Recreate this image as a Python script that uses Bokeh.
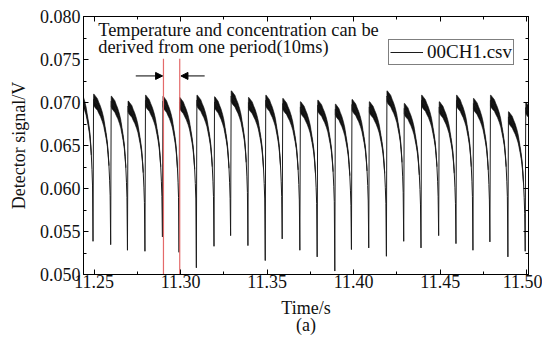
from bokeh.plotting import figure
from bokeh.models import (Range1d, LinearAxis, FixedTicker, NumeralTickFormatter,
                          CustomJSTickFormatter, Label, Arrow, NormalHead, Legend,
                          LegendItem)
from bokeh.embed import file_html
from bokeh.resources import INLINE

# ---------------- data ----------------
# times of the sharp minima (s); first and last lie just outside the view
min_times = [11.2394, 11.2494, 11.2596, 11.2693, 11.2794, 11.2895, 11.2991, 11.3091,
             11.3193, 11.3289, 11.3389, 11.3489, 11.3587, 11.3689, 11.3789, 11.3891,
             11.3987, 11.4087, 11.4189, 11.4289, 11.4389, 11.4491, 11.4591, 11.4689,
             11.4787, 11.4891, 11.4991, 11.5091]
# detector signal at each minimum (V)
min_vals = [0.0535, 0.05386, 0.05347, 0.05282, 0.0527, 0.05437, 0.05258, 0.05078,
            0.05328, 0.05452, 0.05336, 0.05162, 0.05414, 0.05282, 0.05205, 0.0504,
            0.0529, 0.05309, 0.05212, 0.05386, 0.05309, 0.05452, 0.05359, 0.05282,
            0.05379, 0.05205, 0.0527, 0.0535]
# top of the noisy plateau in each period (V), one per interval between minima
cycle_tops = [0.0722, 0.07097, 0.07073, 0.07016, 0.07085, 0.07073, 0.07058, 0.07085,
              0.07066, 0.07135, 0.07058, 0.07085, 0.07047, 0.07008, 0.07027, 0.06981,
              0.07035, 0.07008, 0.07135, 0.06989, 0.07085, 0.07008, 0.07085, 0.07047,
              0.07085, 0.06892, 0.0700]
# shape of one period: fraction of period,
# drop of the trace centre below the plateau top (V), half thickness of the noise (V)
prof_frac = [0.03, 0.06, 0.13, 0.25, 0.33, 0.42, 0.52, 0.60, 0.67, 0.74, 0.81, 0.86,
             0.90, 0.94, 0.97]
prof_drop = [0.0006, 0.0007, 0.0009, 0.0012, 0.0016, 0.0020, 0.0026, 0.0032, 0.0040,
             0.0048, 0.0058, 0.0070, 0.0082, 0.0100, 0.0118]
prof_hw = [0.0006, 0.0007, 0.0007, 0.00068, 0.00064, 0.0006, 0.00055, 0.00048, 0.0004,
           0.00034, 0.00027, 0.00018, 0.0001, 0.0, 0.0]

marker_times = [11.2901, 11.2995]       # red lines bounding one period
series_name = "00CH1.csv"
x_ticks = [11.25, 11.30, 11.35, 11.40, 11.45, 11.50]
x_minor = [11.275, 11.325, 11.375, 11.425, 11.475]
y_ticks = [0.050, 0.055, 0.060, 0.065, 0.070, 0.075, 0.080]
y_minor = [0.0525, 0.0575, 0.0625, 0.0675, 0.0725, 0.0775]
note_lines = ["Temperature and concentration can be", "derived from one period(10ms)"]
panel_tag = "(a)"

# ---------------- build trace ----------------
xs_line, ys_line = [], []
band_xs, band_ys = [], []
for i in range(len(min_times) - 1):
    t0, t1 = min_times[i], min_times[i + 1]
    per = t1 - t0
    top = cycle_tops[i]
    xs_line.append(t0)
    ys_line.append(min_vals[i])
    upx, upy, lox, loy = [], [], [], []
    for f, d, h in zip(prof_frac, prof_drop, prof_hw):
        t = t0 + f * per
        c = top - d
        xs_line.append(t)
        ys_line.append(c)
        if h > 0:
            upx.append(t); upy.append(c + h)
            lox.append(t); loy.append(c - h)
    band_xs.append(upx + lox[::-1])
    band_ys.append(upy + loy[::-1])
xs_line.append(min_times[-1])
ys_line.append(min_vals[-1])

FONT = "Liberation Serif"
FS = "18px"

p = figure(width=542, height=337, output_backend="svg", toolbar_location=None,
           x_range=Range1d(11.2439, 11.5010), y_range=Range1d(0.050, 0.080),
           min_border_left=83, min_border_right=14, min_border_top=16,
           min_border_bottom=62, x_axis_location=None, y_axis_location=None)
p.xgrid.visible = False
p.ygrid.visible = False
p.outline_line_color = "black"
p.background_fill_color = "white"
p.border_fill_color = "white"

xt = FixedTicker(ticks=x_ticks, minor_ticks=x_minor)
yt = FixedTicker(ticks=y_ticks, minor_ticks=y_minor)


def style(ax, labels=True):
    ax.axis_line_color = "black"
    ax.major_tick_in = 5
    ax.major_tick_out = 0
    ax.minor_tick_in = 3
    ax.minor_tick_out = 0
    ax.major_tick_line_color = "black"
    ax.minor_tick_line_color = "black"
    ax.major_label_text_font = FONT
    ax.major_label_text_font_size = FS
    ax.major_label_text_color = "#111111"
    ax.axis_label_text_font = FONT
    ax.axis_label_text_font_size = FS
    ax.axis_label_text_font_style = "normal"
    ax.axis_label_text_color = "#111111"
    if not labels:
        ax.formatter = CustomJSTickFormatter(code="return ''")
        ax.major_label_text_font_size = "0px"
        ax.major_label_standoff = 0


xb = LinearAxis(ticker=xt, formatter=NumeralTickFormatter(format="0.00"),
                axis_label="Time/s")
style(xb)
xb.major_label_standoff = 0
xb.axis_label_standoff = 7
p.add_layout(xb, "below")

# tag "(a)" carried by a bare axis under the time axis
tag_ax = LinearAxis(ticker=FixedTicker(ticks=[]), axis_label=panel_tag)
style(tag_ax, labels=False)
tag_ax.axis_line_color = None
tag_ax.major_tick_in = 0
tag_ax.minor_tick_in = 0
tag_ax.axis_label_standoff = -6
p.add_layout(tag_ax, "below")

yl = LinearAxis(ticker=yt, formatter=NumeralTickFormatter(format="0.000"),
                axis_label="Detector signal/V")
style(yl)
yl.major_label_standoff = 3
yl.axis_label_standoff = 8
p.add_layout(yl, "left")

xa = LinearAxis(ticker=xt)
style(xa, labels=False)
p.add_layout(xa, "above")
yr = LinearAxis(ticker=yt)
style(yr, labels=False)
p.add_layout(yr, "right")

# trace
p.patches(band_xs, band_ys, fill_color="#111111", line_color="#111111", line_width=0.6)
r = p.line(xs_line, ys_line, line_color="#1c1c1c", line_width=1)

# red period markers
p.segment(x0=marker_times, y0=[0.0751] * len(marker_times), x1=marker_times,
          y1=[0.050] * len(marker_times), line_color="#e46a6a", line_width=1.2)

# arrows
p.add_layout(Arrow(end=NormalHead(size=7, fill_color="black", line_color="black"),
                   x_start=11.2741, y_start=0.07309, x_end=11.2896, y_end=0.07309,
                   line_color="black", line_width=1))
p.add_layout(Arrow(end=NormalHead(size=7, fill_color="black", line_color="black"),
                   x_start=11.3139, y_start=0.07309, x_end=11.3002, y_end=0.07309,
                   line_color="black", line_width=1))

# annotation text
for txt, yv in zip(note_lines, [0.07845, 0.07645]):
    p.add_layout(Label(x=11.2524, y=yv, text=txt, text_font=FONT,
                       text_font_size="18.4px", text_baseline="alphabetic",
                       text_color="#111111"))

legend = Legend(items=[LegendItem(label=series_name, renderers=[r])],
                location=(305, 209), padding=1, glyph_width=33, glyph_height=16,
                label_standoff=4, label_height=16, label_text_font=FONT,
                label_text_font_size="19px", label_text_color="#111111",
                border_line_color="black", border_line_width=1,
                background_fill_color="white", background_fill_alpha=1.0,
                margin=0)
p.add_layout(legend)

open("out.html", "w").write(file_html(p, INLINE))
